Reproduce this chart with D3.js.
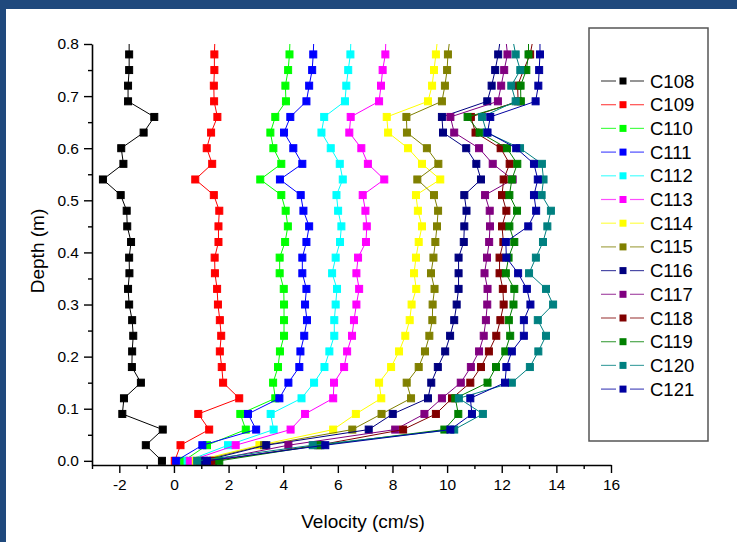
<!DOCTYPE html>
<html>
<head>
<meta charset="utf-8">
<script src="https://cdn.jsdelivr.net/npm/d3@7"></script>
<style>
  html, body { margin: 0; padding: 0; background: #fff; }
  svg { display: block; font-family: "Liberation Sans", Arial, sans-serif; }
</style>
</head>
<body>
<div id="chart"></div>
<script>
// depth of each measurement (m); the last one sits just above the axis and gets clipped
const depths = [0.00, 0.03, 0.06, 0.09, 0.12, 0.15, 0.18, 0.21, 0.24, 0.27, 0.30, 0.33, 0.36, 0.39,
  0.42, 0.45, 0.48, 0.51, 0.54, 0.57, 0.60, 0.63, 0.66, 0.69, 0.72, 0.75, 0.78, 0.81];

const seriesNames = ["C108", "C109", "C110", "C111", "C112", "C113", "C114",
  "C115", "C116", "C117", "C118", "C119", "C120", "C121"];

// velocity (cm/s) at each depth
const c108 = [-0.44, -1.03, -0.41, -1.89, -1.83, -1.21, -1.54, -1.53, -1.49, -1.53, -1.64, -1.68, -1.63, -1.64,
  -1.57, -1.71, -1.73, -1.95, -2.60, -1.85, -1.93, -1.11, -0.72, -1.68, -1.68, -1.64, -1.64, -1.64];
const c109 = [0.03, 0.24, 1.29, 0.89, 2.39, 1.80, 1.75, 1.68, 1.73, 1.68, 1.61, 1.58, 1.50, 1.49,
  1.63, 1.63, 1.66, 1.46, 0.78, 1.40, 1.20, 1.36, 1.59, 1.47, 1.46, 1.48, 1.48, 1.50];
const c110 = [0.36, 1.21, 2.63, 2.43, 3.71, 3.63, 3.81, 3.88, 4.03, 4.03, 4.03, 4.02, 3.87, 3.87,
  4.07, 4.17, 4.09, 3.93, 3.16, 3.93, 3.64, 3.53, 3.71, 4.10, 4.08, 4.18, 4.23, 4.25];
const c111 = [0.08, 1.04, 3.01, 2.71, 3.86, 4.19, 4.59, 4.63, 4.77, 4.87, 4.80, 4.85, 4.70, 4.70,
  4.85, 4.95, 4.74, 4.64, 3.88, 4.70, 4.37, 4.03, 4.26, 4.85, 4.95, 5.06, 5.10, 5.12];
const c112 = [0.50, 1.98, 3.65, 3.54, 4.67, 5.13, 5.51, 5.69, 5.87, 5.87, 5.92, 5.97, 5.79, 5.92,
  6.08, 6.13, 6.01, 5.95, 6.18, 6.07, 5.74, 5.40, 5.50, 6.26, 6.31, 6.38, 6.46, 6.48];
const c113 = [0.58, 2.26, 4.27, 4.80, 5.83, 5.86, 6.23, 6.34, 6.52, 6.59, 6.68, 6.78, 6.68, 6.74,
  7.03, 7.06, 7.01, 6.91, 7.70, 7.10, 6.86, 6.42, 6.47, 7.51, 7.58, 7.64, 7.74, 7.76];
const c114 = [0.80, 3.13, 5.83, 6.66, 7.59, 7.51, 7.95, 8.24, 8.47, 8.63, 8.70, 8.87, 8.79, 8.86,
  8.96, 9.08, 8.93, 8.86, 9.75, 9.08, 8.57, 7.84, 7.79, 9.30, 9.45, 9.52, 9.59, 9.65];
const c115 = [0.95, 3.30, 6.53, 7.60, 8.68, 8.52, 8.96, 9.19, 9.35, 9.46, 9.47, 9.54, 9.41, 9.50,
  9.57, 9.63, 9.67, 9.52, 8.91, 9.68, 9.26, 8.53, 8.51, 9.81, 9.92, 10.00, 10.03, 10.10];
const c116 = [1.10, 3.38, 7.13, 8.01, 9.30, 9.42, 9.66, 9.93, 10.11, 10.26, 10.35, 10.42, 10.42, 10.42,
  10.61, 10.63, 10.71, 10.63, 11.24, 11.07, 10.70, 9.85, 9.81, 11.47, 11.63, 11.76, 11.87, 11.95];
const c117 = [1.30, 4.19, 8.10, 9.17, 9.81, 10.50, 10.87, 11.17, 11.34, 11.42, 11.47, 11.48, 11.37, 11.46,
  11.54, 11.57, 11.56, 11.39, 12.40, 11.67, 11.17, 10.26, 10.12, 11.86, 11.98, 12.09, 12.21, 12.15];
const c118 = [1.43, 5.28, 8.39, 9.59, 10.18, 10.85, 11.24, 11.53, 11.80, 11.95, 12.07, 12.04, 11.92, 11.92,
  12.06, 12.01, 12.17, 12.01, 12.07, 12.29, 11.96, 11.04, 10.87, 12.60, 12.58, 12.80, 13.04, 13.15];
const c119 = [1.66, 5.36, 9.90, 10.41, 10.30, 11.48, 11.79, 12.13, 12.31, 12.26, 12.43, 12.46, 12.15, 12.25,
  12.46, 12.28, 12.56, 12.28, 12.37, 12.57, 12.19, 11.19, 10.75, 12.70, 12.69, 12.90, 12.98, 12.98];
const c120 = [0.85, 5.08, 10.26, 11.31, 10.43, 12.37, 13.03, 13.34, 13.62, 13.32, 13.88, 13.62, 13.00, 13.25,
  13.51, 13.67, 13.80, 13.46, 13.53, 13.47, 12.67, 11.45, 11.28, 12.51, 12.35, 12.68, 12.51, 12.40];
const c121 = [1.21, 5.54, 10.12, 10.91, 10.85, 12.12, 12.17, 12.37, 12.81, 12.81, 13.05, 12.92, 12.60, 12.17,
  12.15, 12.97, 13.26, 13.18, 13.32, 13.18, 12.53, 11.48, 11.58, 13.24, 13.34, 13.37, 13.40, 13.40];

const xTicks = [-2, 0, 2, 4, 6, 8, 10, 12, 14, 16];
const xMinorTicks = [-3, -1, 1, 3, 5, 7, 9, 11, 13, 15];
const yTicks = [0.0, 0.1, 0.2, 0.3, 0.4, 0.5, 0.6, 0.7, 0.8];
const yMinorTicks = [0.05, 0.15, 0.25, 0.35, 0.45, 0.55, 0.65, 0.75];

const allValues = [c108, c109, c110, c111, c112, c113, c114, c115, c116, c117, c118, c119, c120, c121];

// Origin default colour cycle
const colors = ["#000000", "#ff0000", "#00ff00", "#0000ff", "#00ffff", "#ff00ff", "#ffff00",
  "#808000", "#000080", "#800080", "#800000", "#008000", "#008080", "#0000a0"];

const width = 737;
const height = 542;

const svg = d3.select("#chart").append("svg")
  .attr("width", width)
  .attr("height", height);

svg.append("rect").attr("width", width).attr("height", height).attr("fill", "#fff");

// blue frame at top and left
svg.append("rect").attr("x", 0).attr("y", 0).attr("width", width).attr("height", 9).attr("fill", "#1f497d");
svg.append("rect").attr("x", 0).attr("y", 0).attr("width", 6).attr("height", height).attr("fill", "#1f497d");

const x = d3.scaleLinear().domain([-3, 16]).range([92, 611]);
const y = d3.scaleLinear().domain([-0.008, 0.8]).range([465, 44]);

svg.append("clipPath").attr("id", "plot-clip")
  .append("rect")
  .attr("x", x(-3)).attr("y", y(0.8))
  .attr("width", x(16) - x(-3)).attr("height", y(-0.008) - y(0.8));

const plot = svg.append("g").attr("clip-path", "url(#plot-clip)");

const line = d3.line()
  .x(d => x(d.v))
  .y(d => y(d.depth));

const markerSize = 7;

allValues.forEach((vals, i) => {
  const pts = vals.map((v, j) => ({ v: v, depth: depths[j] }));
  const g = plot.append("g");
  g.append("path")
    .datum(pts)
    .attr("d", line)
    .attr("fill", "none")
    .attr("stroke", colors[i])
    .attr("stroke-width", 1);
  g.selectAll("rect")
    .data(pts)
    .enter()
    .append("rect")
    .attr("x", d => x(d.v) - markerSize / 2)
    .attr("y", d => y(d.depth) - markerSize / 2)
    .attr("width", markerSize)
    .attr("height", markerSize)
    .attr("fill", colors[i])
    .attr("stroke", colors[i])
    .attr("stroke-width", 1);
});

// Axes
const xAxis = svg.append("g").attr("transform", `translate(0, ${y(-0.008)})`)
  .call(d3.axisBottom(x).tickValues(xTicks).tickSize(8).tickSizeOuter(0).tickFormat(d => String(d)));
svg.append("g").attr("transform", `translate(0, ${y(-0.008)})`)
  .call(d3.axisBottom(x).tickValues(xMinorTicks).tickSize(4).tickSizeOuter(0).tickFormat(""))
  .call(g => g.select(".domain").remove());

const yAxis = svg.append("g").attr("transform", `translate(${x(-3)}, 0)`)
  .call(d3.axisLeft(y).tickValues(yTicks).tickSize(8).tickSizeOuter(0).tickFormat(d3.format(".1f")));
svg.append("g").attr("transform", `translate(${x(-3)}, 0)`)
  .call(d3.axisLeft(y).tickValues(yMinorTicks).tickSize(4).tickSizeOuter(0).tickFormat(""))
  .call(g => g.select(".domain").remove());

svg.selectAll(".domain").attr("stroke", "#000").attr("stroke-width", 1.6);
svg.selectAll(".tick line").attr("stroke", "#000").attr("stroke-width", 1.4);
svg.selectAll(".tick text")
  .attr("fill", "#000")
  .style("font-size", "15.5px")
  .style("font-family", "'Liberation Sans', Arial, sans-serif");
xAxis.selectAll(".tick text").attr("y", 14);
yAxis.selectAll(".tick text").attr("x", -13);

// Axis titles
svg.append("text")
  .attr("x", 363)
  .attr("y", 528)
  .attr("text-anchor", "middle")
  .style("font-size", "19px")
  .text("Velocity (cm/s)");

svg.append("text")
  .attr("transform", "translate(44, 251) rotate(-90)")
  .attr("text-anchor", "middle")
  .style("font-size", "19px")
  .text("Depth (m)");

// Legend
const legend = svg.append("g");
legend.append("rect")
  .attr("x", 589).attr("y", 28)
  .attr("width", 119).attr("height", 413)
  .attr("fill", "#fff")
  .attr("stroke", "#555")
  .attr("stroke-width", 1.5);

const legendItems = legend.selectAll(".item")
  .data(seriesNames)
  .enter()
  .append("g")
  .attr("class", "item")
  .attr("transform", (d, i) => `translate(0, ${81 + i * 23.7})`);

legendItems.append("line")
  .attr("x1", 601).attr("x2", 616).attr("y1", 0).attr("y2", 0)
  .attr("stroke", (d, i) => colors[i]).attr("stroke-width", 1.2).attr("stroke-opacity", 0.7);
legendItems.append("line")
  .attr("x1", 630).attr("x2", 644).attr("y1", 0).attr("y2", 0)
  .attr("stroke", (d, i) => colors[i]).attr("stroke-width", 1.2).attr("stroke-opacity", 0.7);
legendItems.append("rect")
  .attr("x", 619.5).attr("y", -3.5)
  .attr("width", 7).attr("height", 7)
  .attr("fill", (d, i) => colors[i]);
legendItems.append("text")
  .attr("x", 650)
  .attr("y", 6.5)
  .style("font-size", "18.5px")
  .text(d => d);
</script>
</body>
</html>
